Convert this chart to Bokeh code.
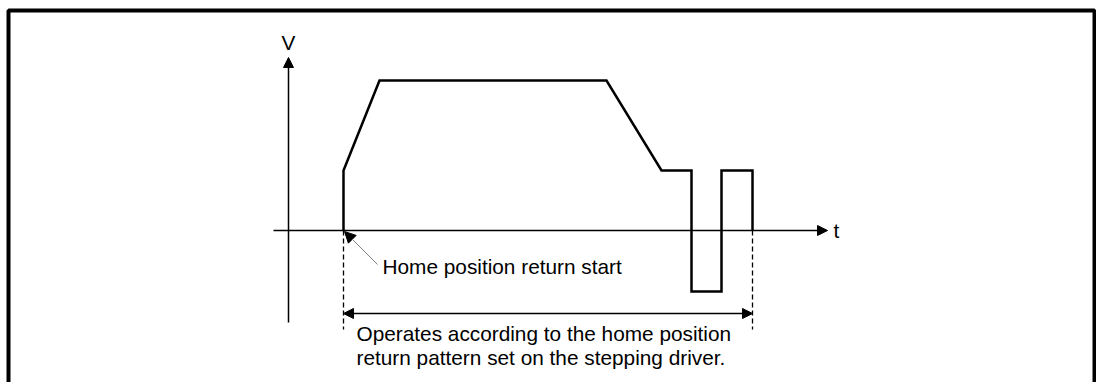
from bokeh.plotting import figure
from bokeh.models import Range1d, Arrow, NormalHead, Label
from bokeh.embed import file_html
from bokeh.resources import INLINE

# ---- data (chart units: origin at the axes crossing, t to the right, V upward) ----
profile_t = [55, 55, 91, 318, 373, 403, 403, 433, 433, 464, 464]
profile_v = [0, 60, 150, 150, 60, 60, -61, -61, 60, 60, 0]

t_axis_start, t_axis_end = -15, 539
v_axis_start, v_axis_end = -92, 173

start_t = 55
end_t = 464
span_v = -83           # level of the double-headed arrow
guide_bottom_v = -99   # lower end of the dashed guides

label_V = "V"
label_t = "t"
label_start = "Home position return start"
label_span = ["Operates according to the home position",
              "return pattern set on the stepping driver."]

# frame (box) in chart units
box_left, box_right, box_top, box_bottom = -280, 806, 220, -200

W, H = 1096, 382
OX, OY = 288, 230   # pixel of the origin
p = figure(width=W, height=H, output_backend="svg", toolbar_location=None,
           x_range=Range1d(0 - OX, W - OX), y_range=Range1d(OY - H, OY),
           x_axis_location=None, y_axis_location=None, min_border=0)
p.xgrid.visible = False
p.ygrid.visible = False
p.outline_line_color = None
p.background_fill_color = "white"
p.border_fill_color = "white"

FONT = "Liberation Sans"

# outer box (three visible sides)
p.line([box_left, box_left, box_right, box_right], [box_bottom, box_top, box_top, box_bottom],
       line_color="black", line_width=4)

# axes with arrowheads
p.add_layout(Arrow(end=NormalHead(size=10, fill_color="black", line_color="black"),
                   x_start=0, y_start=v_axis_start, x_end=0, y_end=v_axis_end,
                   line_color="black", line_width=1.5))
p.add_layout(Arrow(end=NormalHead(size=10, fill_color="black", line_color="black"),
                   x_start=t_axis_start, y_start=0, x_end=t_axis_end, y_end=0,
                   line_color="black", line_width=1.5))

# dashed guides
p.line([start_t, start_t], [0, guide_bottom_v], line_color="black", line_width=1.3, line_dash="5 3")
p.line([end_t, end_t], [0, guide_bottom_v], line_color="black", line_width=1.3, line_dash="5 3")

# velocity profile
p.line(profile_t, profile_v, line_color="black", line_width=2.5, line_join="miter")

# double arrow
p.add_layout(Arrow(start=NormalHead(size=10, fill_color="black", line_color="black"),
                   end=NormalHead(size=10, fill_color="black", line_color="black"),
                   x_start=start_t, y_start=span_v, x_end=end_t, y_end=span_v,
                   line_color="black", line_width=1.5))

# leader to start point
p.add_layout(Arrow(end=NormalHead(size=11, fill_color="black", line_color="black"),
                   x_start=start_t + 34, y_start=-34, x_end=start_t + 1, y_end=-1,
                   line_color="#808080", line_width=1))

# labels
fs = "20.8px"
p.add_layout(Label(x=0, y=188, text=label_V, text_align="center", text_baseline="alphabetic",
                   text_font=FONT, text_font_size=fs, text_color="black"))
p.add_layout(Label(x=545, y=0, text=label_t, text_align="left", text_baseline="middle",
                   text_font=FONT, text_font_size=fs, text_color="black"))
p.add_layout(Label(x=94, y=-36, text=label_start, text_align="left", text_baseline="alphabetic",
                   text_font=FONT, text_font_size=fs, text_color="black"))
for i, line in enumerate(label_span):
    p.add_layout(Label(x=68, y=-103 - 23.5 * i, text=line, text_align="left",
                       text_baseline="alphabetic", text_font=FONT, text_font_size=fs,
                       text_color="black"))

open("out.html", "w").write(file_html(p, INLINE))
